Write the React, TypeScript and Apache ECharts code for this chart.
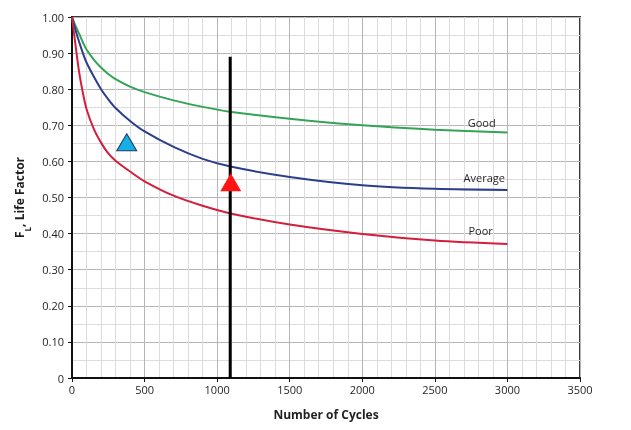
import React, { useEffect, useRef } from "react";
import * as echarts from "echarts";

const cycles = [0, 25, 50, 75, 100, 150, 200, 250, 300, 400, 500, 700, 900, 1100, 1500, 2000, 2500, 3000];
const good = [1.0, 0.975, 0.953, 0.93, 0.91, 0.882, 0.86, 0.842, 0.828, 0.807, 0.792, 0.769, 0.751, 0.737, 0.718, 0.70, 0.688, 0.680];
const average = [1.0, 0.963, 0.93, 0.9, 0.874, 0.835, 0.80, 0.772, 0.748, 0.712, 0.683, 0.64, 0.607, 0.585, 0.557, 0.534, 0.524, 0.521];
const poor = [1.0, 0.92, 0.845, 0.79, 0.745, 0.69, 0.652, 0.622, 0.602, 0.572, 0.545, 0.505, 0.477, 0.455, 0.425, 0.399, 0.381, 0.371];

const curveLabels = [
  { name: "Good", x: 2823, y: 0.707 },
  { name: "Average", x: 2840, y: 0.555 },
  { name: "Poor", x: 2815, y: 0.408 },
];
const verticalLine = [[1090, 0], [1090, 0.89]];
const blueMarker = [[377, 0.653]];
const redMarker = [[1094, 0.542]];

const FONT = "'Open Sans', 'Noto Sans', sans-serif";
const TXT = "#231f20";

export default function App() {
  const ref = useRef<HTMLDivElement>(null);
  useEffect(() => {
    if (!ref.current) return;
    const chart = echarts.init(ref.current, null, { renderer: "svg" });
    const mk = (ys: number[]) => cycles.map((c, i) => [c, ys[i]]);
    const labelPoint = (l: { name: string; x: number; y: number }) => ({
      markPoint: {
        symbol: "circle",
        symbolSize: 0,
        label: { show: true, formatter: l.name, position: "inside", color: TXT, fontSize: 11, fontFamily: FONT },
        data: [{ coord: [l.x, l.y] }],
      },
    });
    chart.setOption({
      animation: false,
      textStyle: { fontFamily: FONT },
      grid: {
        left: 72, right: 51, top: 17, bottom: 52,
        show: true, borderColor: "#3a3a3a", borderWidth: 2, backgroundColor: "transparent",
      },
      xAxis: {
        type: "value", min: 0, max: 3500, interval: 500,
        name: "Number of Cycles", nameLocation: "middle", nameGap: 30,
        nameTextStyle: { color: TXT, fontSize: 12, fontWeight: "bold", fontFamily: FONT },
        axisLine: { show: true, lineStyle: { color: "#111", width: 2 } },
        axisTick: { show: true, length: 4, lineStyle: { color: "#111" } },
        axisLabel: { color: TXT, fontSize: 11, margin: 6, fontFamily: FONT, formatter: (v: number) => String(v) },
        splitLine: { show: true, lineStyle: { color: "#b5b5b5", width: 1 } },
        minorTick: { show: true, splitNumber: 5, length: 0, lineStyle: { width: 0 } },
        minorSplitLine: { show: true, lineStyle: { color: "#dcdcdc", width: 1 } },
      },
      yAxis: {
        type: "value", min: 0, max: 1, interval: 0.1,
        name: "{m|F}{s|L}{m|, Life Factor}", nameLocation: "middle", nameGap: 46, nameRotate: 90,
        nameTextStyle: {
          color: TXT, fontFamily: FONT,
          rich: {
            m: { fontSize: 12, fontWeight: "bold", color: TXT, fontFamily: FONT },
            s: { fontSize: 8, fontWeight: "bold", color: TXT, fontFamily: FONT, verticalAlign: "bottom", padding: [0, 0, -6, 0] },
          },
        },
        axisLine: { show: true, lineStyle: { color: "#111", width: 2 } },
        axisTick: { show: true, length: 4, lineStyle: { color: "#111" } },
        axisLabel: {
          color: TXT, fontSize: 11, margin: 8, fontFamily: FONT,
          formatter: (v: number) => (v === 0 ? "0" : v.toFixed(2)),
        },
        splitLine: { show: true, lineStyle: { color: "#b5b5b5", width: 1 } },
        minorTick: { show: true, splitNumber: 2, length: 0, lineStyle: { width: 0 } },
        minorSplitLine: { show: true, lineStyle: { color: "#dcdcdc", width: 1 } },
      },
      series: [
        {
          name: "Good", type: "line", data: mk(good), smooth: 0.3, symbol: "none", z: 3,
          lineStyle: { color: "#34a356", width: 2 }, ...labelPoint(curveLabels[0]),
        },
        {
          name: "Average", type: "line", data: mk(average), smooth: 0.3, symbol: "none", z: 3,
          lineStyle: { color: "#2b3e8c", width: 2 }, ...labelPoint(curveLabels[1]),
        },
        {
          name: "Poor", type: "line", data: mk(poor), smooth: 0.3, symbol: "none", z: 3,
          lineStyle: { color: "#d21f3c", width: 2 }, ...labelPoint(curveLabels[2]),
        },
        {
          type: "line", data: verticalLine, symbol: "none", z: 4,
          lineStyle: { color: "#000", width: 3 },
        },
        {
          type: "scatter", data: blueMarker, symbol: "triangle", symbolSize: [20, 17], z: 5,
          itemStyle: { color: "#16aee6", borderColor: "#1d3a66", borderWidth: 1, opacity: 1 },
        },
        {
          type: "scatter", data: redMarker, symbol: "triangle", symbolSize: [21, 18], z: 5,
          itemStyle: { color: "#ff1414", opacity: 1 },
        },
      ],
    });
    return () => chart.dispose();
  }, []);
  return <div ref={ref} style={{ position: "fixed", left: 0, top: 0, width: 631, height: 430 }} />;
}
